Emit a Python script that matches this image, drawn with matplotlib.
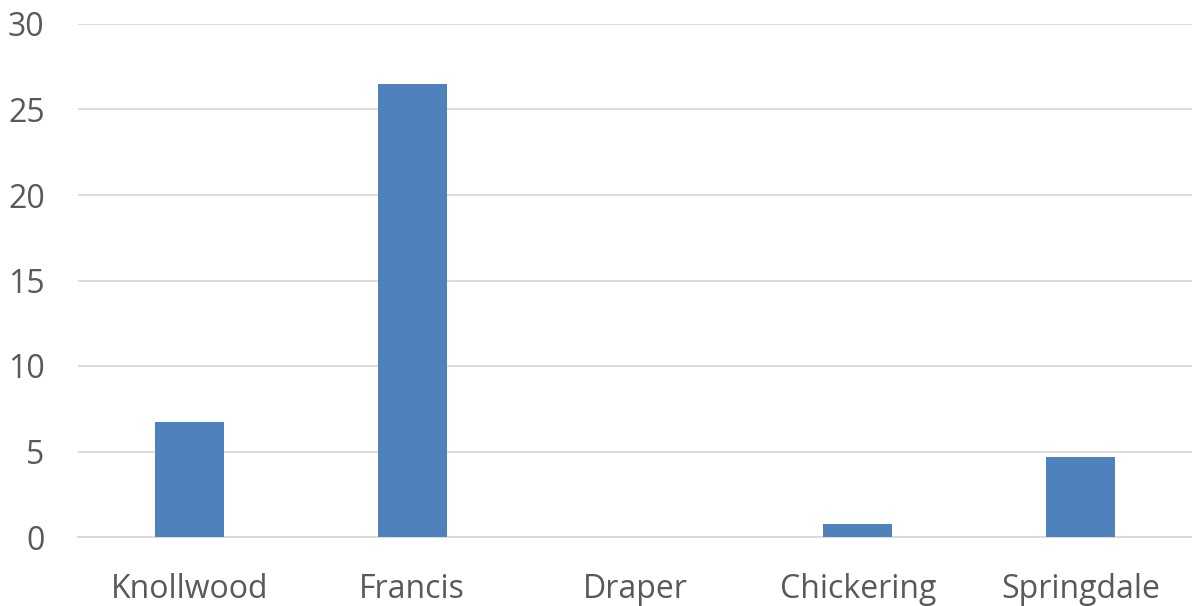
import matplotlib
matplotlib.use('Agg')

import numpy as np
import matplotlib.pyplot as plt

plt.rcParams['font.family'] = ['Open Sans', 'DejaVu Sans']

# data
schools = ['Knollwood', 'Francis', 'Draper', 'Chickering', 'Springdale']
values = [6.7, 26.5, 0, 0.75, 4.7]
yticks = [0, 5, 10, 15, 20, 25, 30]

fig = plt.figure(figsize=(11.92, 6.06), dpi=100, facecolor='w')
ax = fig.add_axes([78/1192, 1-537/606, 1-78/1192, (537-24)/606])

x = np.arange(len(schools))
ax.bar(x, values, width=0.31, color='#4F81BD', zorder=3)

ax.set_xlim(-0.5, len(schools)-0.5)
ax.set_ylim(0, 30)
ax.set_yticks(yticks)
ax.set_xticks(x)
ax.set_xticklabels(schools)
ax.grid(axis='y', color='#D9D9D9', lw=1.3, zorder=0)
for s in ['top', 'right', 'left']:
    ax.spines[s].set_visible(False)
ax.spines['bottom'].set_color('#D9D9D9')
ax.spines['bottom'].set_linewidth(1.3)
ax.tick_params(axis='both', length=0, labelsize=23, labelcolor='#595959')
ax.tick_params(axis='y', pad=24)
ax.tick_params(axis='x', pad=26)

plt.savefig('out.png', dpi=100)
